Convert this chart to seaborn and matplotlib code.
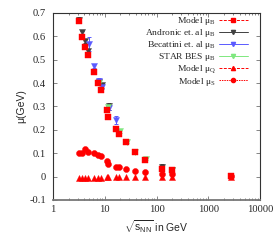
import matplotlib
matplotlib.use("Agg")
import matplotlib.pyplot as plt
from matplotlib.lines import Line2D
import seaborn as sns
import pandas as pd

# ---- data ----
model_sqrts = [3.2, 3.6, 4.2, 4.7, 6.1, 7.3, 8.5, 11.1, 11.8, 16.8, 18.8, 26, 38, 61, 127, 196, 2750]
model_muB = [0.665, 0.597, 0.555, 0.519, 0.447, 0.400, 0.371, 0.285, 0.257, 0.204, 0.183,
             0.146, 0.103, 0.072, 0.033, 0.026, 0.001]
model_muQ = [-0.007, -0.007, -0.007, -0.007, -0.007, -0.006, -0.006, -0.003, -0.003, -0.002,
             -0.002, -0.002, -0.001, -0.001, -0.001, -0.001, 0.0]
model_muS = [0.100, 0.100, 0.119, 0.106, 0.100, 0.093, 0.089, 0.065, 0.054, 0.039, 0.039,
             0.033, 0.022, 0.018, 0.011, 0.011, 0.001]

andronic_sqrts = [3.2, 3.7, 4.2, 4.7, 7.7, 8.7, 12.2, 127, 196]
andronic_muB = [0.672, 0.617, 0.580, 0.537, 0.405, 0.390, 0.300, 0.043, 0.028]
andronic_err = [0.012, 0.008, 0.008, 0.008, 0.010, 0.010, 0.016, 0.010, 0.008]

becattini_sqrts = [4.9, 6.1, 7.6, 8.7, 12.2, 16.8]
becattini_muB = [0.569, 0.473, 0.410, 0.385, 0.295, 0.242]
becattini_err = [0.030, 0.010, 0.012, 0.010, 0.010, 0.016]

star_sqrts = [7.7, 11.5, 19.6, 27, 39, 62.4, 200]
star_muB = [0.400, 0.296, 0.193, 0.149, 0.107, 0.076, 0.030]
star_err = [0.008, 0.008, 0.005, 0.004, 0.004, 0.004, 0.004]

xticks = [1, 10, 100, 1000, 10000]
xtick_labels = ["1", "10", "100", "1000", "10000"]
yticks = [0.7, 0.6, 0.5, 0.4, 0.3, 0.2, 0.1, 0.0, -0.1]
ytick_labels = ["0.7", "0.6", "0.5", "0.4", "0.3", "0.2", "0.1", "0", "-0.1"]

labels = ["Model μ$_{\\rm B}$", "Andronic et. al μ$_{\\rm B}$", "Becattini et. al μ$_{\\rm B}$",
          "STAR BES μ$_{\\rm B}$", "Model μ$_{\\rm Q}$", "Model μ$_{\\rm S}$"]

# ---- style ----
sns.set_style("ticks")
plt.rcParams["font.family"] = ["Liberation Serif", "DejaVu Serif"]
plt.rcParams["mathtext.fontset"] = "custom"
plt.rcParams["mathtext.rm"] = "Liberation Serif"
plt.rcParams["mathtext.it"] = "Liberation Serif:italic"
plt.rcParams["mathtext.sf"] = "Liberation Sans"

RED = "#ff0000"
GRAY = "#404040"
BLUE = "#5a5aff"
GREEN = "#7fe87f"

fig = plt.figure(figsize=(2.8, 2.45), dpi=100)
ax = fig.add_axes([0.189, 0.184, 0.740, 0.763])

df_model = pd.DataFrame({"s": model_sqrts, "muB": model_muB, "muQ": model_muQ, "muS": model_muS})
df_and = pd.DataFrame({"s": andronic_sqrts, "mu": andronic_muB, "e": andronic_err})
df_bec = pd.DataFrame({"s": becattini_sqrts, "mu": becattini_muB, "e": becattini_err})
df_star = pd.DataFrame({"s": star_sqrts, "mu": star_muB, "e": star_err})

ms = 19
# experimental / other-analysis points (drawn first)
for df, col in [(df_and, GRAY), (df_bec, BLUE), (df_star, GREEN)]:
    ax.errorbar(df["s"], df["mu"], yerr=df["e"], fmt="none", ecolor=col, elinewidth=0.7,
                capsize=1.5, capthick=0.7, zorder=2)
    sns.scatterplot(data=df, x="s", y="mu", marker="v", s=ms, color=col, edgecolor=col,
                    linewidth=0.3, ax=ax, zorder=3, legend=False)

# model points
ax.errorbar(df_model["s"], df_model["muB"], yerr=0.004, fmt="none", ecolor=RED, elinewidth=0.6,
            capsize=1.2, capthick=0.6, zorder=4)
sns.scatterplot(data=df_model, x="s", y="muB", marker="s", s=ms, color=RED, edgecolor=RED,
                linewidth=0.3, ax=ax, zorder=5, legend=False)
ax.errorbar(df_model["s"], df_model["muS"], yerr=0.004, fmt="none", ecolor=RED, elinewidth=0.6,
            capsize=1.2, capthick=0.6, zorder=4)
sns.scatterplot(data=df_model, x="s", y="muS", marker="o", s=ms, color=RED, edgecolor=RED,
                linewidth=0.3, ax=ax, zorder=5, legend=False)
sns.scatterplot(data=df_model, x="s", y="muQ", marker="^", s=ms, color=RED, edgecolor=RED,
                linewidth=0.3, ax=ax, zorder=5, legend=False)

ax.set_xscale("log")
ax.set_xlim(1, 10000)
ax.set_ylim(-0.1, 0.7)
ax.set_xticks(xticks)
ax.set_xticklabels(xtick_labels)
ax.set_yticks(yticks)
ax.set_yticklabels(ytick_labels)
ax.tick_params(axis="both", which="both", direction="in", top=True, right=True,
               labelsize=7.6, width=0.5, color="#555555")
ax.tick_params(axis="y", pad=5)
ax.tick_params(axis="x", pad=4)
ax.tick_params(which="major", length=3)
ax.tick_params(which="minor", length=1.6)
for sp in ax.spines.values():
    sp.set_linewidth(0.8)
    sp.set_color("#333333")
ax.spines["bottom"].set_linewidth(1.3)
ax.spines["bottom"].set_color("#777777")

ax.set_xlabel(r"$\sqrt{\mathsf{s}_{\mathsf{NN}}}$" + " in GeV", family="Liberation Sans",
              fontsize=7.5, labelpad=3)
ax.set_ylabel("μ(GeV)", family=["Liberation Sans", "DejaVu Sans"], fontsize=7.5, labelpad=2)

handles = [
    Line2D([], [], color=RED, ls=(0, (3, 1.5)), lw=0.7, marker="s", ms=3),
    Line2D([], [], color=GRAY, ls="-", lw=0.7, marker="v", ms=3),
    Line2D([], [], color=BLUE, ls="-", lw=0.7, marker="v", ms=3),
    Line2D([], [], color=GREEN, ls="-", lw=0.7, marker="v", ms=3),
    Line2D([], [], color=RED, ls=(0, (3, 1.5)), lw=0.7, marker="^", ms=3),
    Line2D([], [], color=RED, ls=(0, (1.5, 1)), lw=0.7, marker="o", ms=3),
]
leg = ax.legend(handles, labels, loc="upper right", bbox_to_anchor=(0.942, 0.99),
                frameon=False, fontsize=6.8, markerfirst=False, handlelength=3.1,
                handletextpad=0.35, labelspacing=0.02, borderpad=0, borderaxespad=0,
                numpoints=1)
for t in leg.get_texts():
    t.set_ha("right")

fig.savefig("out.png", dpi=100)
